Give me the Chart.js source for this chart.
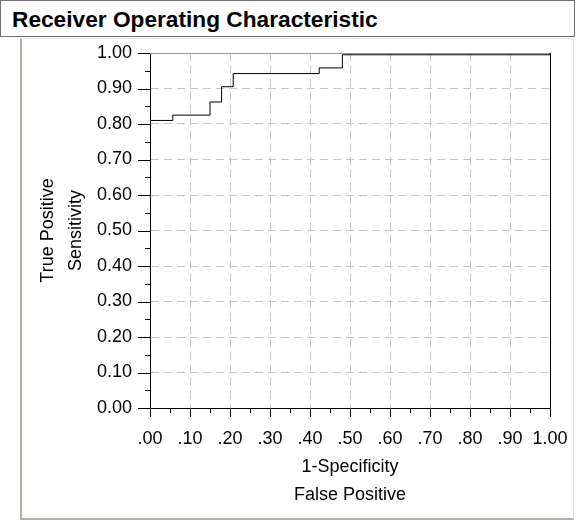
<!DOCTYPE html>
<html>
<head>
<meta charset="utf-8">
<script src="https://cdn.jsdelivr.net/npm/chart.js@4/dist/chart.umd.min.js"></script>
<style>
  body { margin: 0; background: #fff; width: 576px; height: 523px; overflow: hidden; font-family: "Liberation Sans", Arial, sans-serif; }
  #titlebox { position: absolute; left: 0; top: 0; width: 573px; height: 35px; border: 1px solid #707070; }
  #titlebox span { position: absolute; left: 11px; top: 5px; font-weight: bold; font-size: 22.7px; line-height: 26px; color: #000; }
  #panel { position: absolute; left: 20px; top: 38px; width: 551px; height: 479px;
    border-left: 2px solid #b5b1a5; border-bottom: 2px solid #b5b1a5; border-top: 1px solid #e4e2dc; border-right: 1px solid #e4e2dc; }
  canvas { position: absolute; left: 0; top: 0; }
</style>
</head>
<body>
<div id="titlebox"><span>Receiver Operating Characteristic</span></div>
<div id="panel"></div>
<canvas id="roc" width="576" height="523"></canvas>
<script>
// ROC curve points (1-specificity, sensitivity)
const fpr = [0, 0, 0.057, 0.150, 0.179, 0.208, 0.423, 0.481, 1];
const tpr = [0, 0.81, 0.825, 0.862, 0.905, 0.942, 0.958, 0.995, 1];

const xTickLabels = [".00", ".10", ".20", ".30", ".40", ".50", ".60", ".70", ".80", ".90", "1.00"];
const yTickLabels = ["0.00", "0.10", "0.20", "0.30", "0.40", "0.50", "0.60", "0.70", "0.80", "0.90", "1.00"];

const xTitle = ["1-Specificity", "False Positive"];
const yTitle = ["True Positive", "Sensitivity"];

const FONT = "'Liberation Sans', Arial, sans-serif";

function px(v) { return Math.round(v) + 0.5; }

// frame (top grey, right black) behind the curve
const framePlugin = {
  id: "frame",
  beforeDatasetsDraw(chart) {
    const { ctx, chartArea: a } = chart;
    ctx.save();
    ctx.lineWidth = 1;
    ctx.strokeStyle = "#999";
    ctx.beginPath();
    ctx.moveTo(a.left, px(a.top));
    ctx.lineTo(a.right, px(a.top));
    ctx.stroke();
    ctx.strokeStyle = "#000";
    ctx.beginPath();
    ctx.moveTo(px(a.right), a.top);
    ctx.lineTo(px(a.right), a.bottom);
    ctx.stroke();
    ctx.restore();
  }
};

// major + minor tick marks, outside the plot
const tickPlugin = {
  id: "tickMarks",
  afterDraw(chart) {
    const { ctx, chartArea: a, scales } = chart;
    const xs = scales.x, ys = scales.y;
    ctx.save();
    ctx.lineWidth = 1;
    ctx.strokeStyle = "#000";
    ctx.beginPath();
    const xt = xs.ticks.map(t => t.value);
    xt.forEach((v, i) => {
      const p = px(xs.getPixelForValue(v));
      ctx.moveTo(p, a.bottom); ctx.lineTo(p, a.bottom + 9);
      if (i < xt.length - 1) {
        const m = px(xs.getPixelForValue((v + xt[i + 1]) / 2));
        ctx.moveTo(m, a.bottom); ctx.lineTo(m, a.bottom + 5);
      }
    });
    const yt = ys.ticks.map(t => t.value);
    yt.forEach((v, i) => {
      const p = px(ys.getPixelForValue(v));
      ctx.moveTo(a.left - 12, p); ctx.lineTo(a.left, p);
      if (i < yt.length - 1) {
        const m = px(ys.getPixelForValue((v + yt[i + 1]) / 2));
        ctx.moveTo(a.left - 5, m); ctx.lineTo(a.left, m);
      }
    });
    ctx.stroke();
    ctx.restore();
  }
};

const gridColor = c => (c.tick && c.tick.value > 0.001 && c.tick.value < 0.999) ? "#c6c6c6" : "rgba(0,0,0,0)";

new Chart(document.getElementById("roc"), {
  type: "scatter",
  data: {
    datasets: [{
      data: fpr.map((x, i) => ({ x: x, y: tpr[i] })),
      showLine: true,
      stepped: "before",
      borderColor: "#000",
      borderWidth: 1,
      pointRadius: 0,
      fill: false
    }]
  },
  options: {
    responsive: false,
    devicePixelRatio: 1,
    animation: false,
    layout: { padding: { top: 53, right: 26, left: 0, bottom: 0 } },
    plugins: { legend: { display: false }, tooltip: { enabled: false } },
    scales: {
      x: {
        type: "linear",
        min: 0, max: 1,
        afterFit: s => { s.height = 115; s.paddingLeft = 0; s.paddingRight = 0; },
        ticks: {
          stepSize: 0.1,
          padding: 20,
          color: "#000",
          font: { family: FONT, size: 18 },
          maxRotation: 0,
          autoSkip: false,
          callback: (v, i) => xTickLabels[i]
        },
        grid: { color: gridColor, drawTicks: false, lineWidth: 1 },
        border: { display: true, color: "#000", width: 1, dash: [8, 5] },
        title: {
          display: true,
          text: xTitle,
          color: "#000",
          font: { family: FONT, size: 18, lineHeight: 28 / 18 },
          padding: { top: 0, bottom: 14 }
        }
      },
      y: {
        type: "linear",
        min: 0, max: 1,
        afterFit: s => { s.width = 150; s.paddingTop = 0; s.paddingBottom = 0; },
        ticks: {
          stepSize: 0.1,
          padding: 18,
          color: "#000",
          font: { family: FONT, size: 18 },
          autoSkip: false,
          callback: (v, i) => yTickLabels[i]
        },
        grid: { color: gridColor, drawTicks: false, lineWidth: 1 },
        border: { display: true, color: "#000", width: 1, dash: [8, 5] },
        title: {
          display: true,
          text: yTitle,
          color: "#000",
          font: { family: FONT, size: 18, lineHeight: 28 / 18 },
          padding: { top: 34, bottom: 0 }
        }
      }
    }
  },
  plugins: [framePlugin, tickPlugin]
});
</script>
</body>
</html>
